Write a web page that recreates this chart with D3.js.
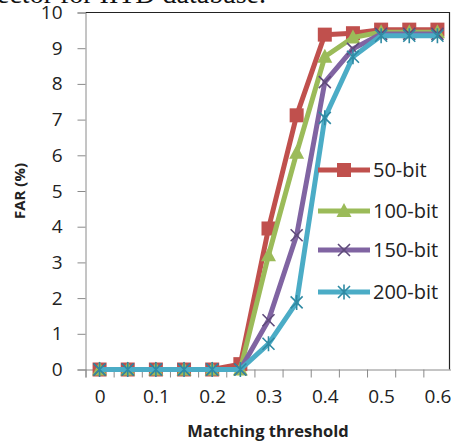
<!DOCTYPE html>
<html><head><meta charset="utf-8">
<script src="https://cdn.jsdelivr.net/npm/d3@7"></script>
<style>body{margin:0;background:#fff;overflow:hidden}svg{display:block}</style>
</head><body>
<script>
const thresholds = [0,0.05,0.1,0.15,0.2,0.25,0.3,0.35,0.4,0.45,0.5,0.55,0.6];
const xLabels = [0,0.1,0.2,0.3,0.4,0.5,0.6];
const yTicks = [0,1,2,3,4,5,6,7,8,9,10];
const seriesNames = ["50-bit","100-bit","150-bit","200-bit"];
const far50  = [0,0,0,0,0,0.15,3.95,7.12,9.38,9.42,9.52,9.52,9.52];
const far100 = [0,0,0,0,0,0,3.2,6.07,8.76,9.3,9.45,9.45,9.45];
const far150 = [0,0,0,0,0,0,1.38,3.76,8.05,8.98,9.4,9.4,9.4];
const far200 = [0,0,0,0,0,0,0.72,1.88,7.05,8.76,9.35,9.35,9.35];
const colors = ["#C0504D","#9BBB59","#8064A2","#4BACC6"];
const markerStroke = ["#C0504D","#9BBB59","#5E4A7A","#2F8AA3"];
const markers = ["square","triangle","x","star"];
const allSeries = [far50,far100,far150,far200];

const W=451,H=441;
const svg=d3.select("body").append("svg").attr("width",W).attr("height",H);
const font="'Open Sans', sans-serif";

// clipped caption text from page above
svg.append("text").attr("x",-3).attr("y",3).attr("font-family","'Liberation Serif', serif")
  .attr("font-size",28).attr("fill","#111").text("ector for IITD database.");

const L=85.5,R=451.5,T=12.5,B=369.5;
const x=d3.scaleLinear().domain([-0.025,0.625]).range([L,R]);
const y=d3.scaleLinear().domain([0,10]).range([B,T]);

// plot border top/right
svg.append("path").attr("d",`M${L},${T}H${449.5}V${B}`).attr("fill","none").attr("stroke","#222").attr("stroke-width",1.2);

// y axis
const ya=svg.append("g").attr("transform",`translate(${L},0)`)
  .call(d3.axisLeft(y).tickValues(yTicks).tickSize(8).tickPadding(15).tickFormat(d3.format("d")));
ya.select(".domain").attr("stroke","#8a8a8a");
ya.selectAll(".tick line").attr("stroke","#8a8a8a");
ya.selectAll("text").attr("font-family",font).attr("font-size",19).attr("fill","#222");

// x axis boundaries ticks
const bounds=thresholds.map(d=>d-0.025).concat([0.625]);
const xa=svg.append("g").attr("transform",`translate(0,${B})`)
  .call(d3.axisBottom(x).tickValues(bounds).tickSize(8).tickFormat(""));
xa.select(".domain").attr("stroke","#8a8a8a");
xa.selectAll(".tick line").attr("stroke","#8a8a8a");
const xl=svg.append("g").attr("transform",`translate(0,${B})`)
  .call(d3.axisBottom(x).tickValues(xLabels).tickSize(0).tickPadding(20).tickFormat(d=>String(d)));
xl.select(".domain").remove();
xl.selectAll("text").attr("font-family",font).attr("font-size",19).attr("fill","#222");

// titles
svg.append("text").attr("x",268).attr("y",437).attr("text-anchor","middle")
  .attr("font-family",font).attr("font-weight","bold").attr("font-size",16.5).attr("fill","#222").text("Matching threshold");
svg.append("text").attr("transform","translate(25,191) rotate(-90)").attr("text-anchor","middle")
  .attr("font-family",font).attr("font-weight","bold").attr("font-size",15).attr("fill","#222").text("FAR (%)");

function drawMarker(g,type,cx,cy,i){
  const s=7;
  if(type==="square"){
    g.append("rect").attr("x",cx-s).attr("y",cy-s).attr("width",2*s).attr("height",2*s).attr("fill",colors[i]);
  } else if(type==="triangle"){
    g.append("path").attr("d",`M${cx},${cy-8}L${cx+7.5},${cy+6}L${cx-7.5},${cy+6}Z`).attr("fill",colors[i]);
  } else if(type==="x"){
    g.append("path").attr("d",`M${cx-6},${cy-6}L${cx+6},${cy+6}M${cx-6},${cy+6}L${cx+6},${cy-6}`)
      .attr("stroke",markerStroke[i]).attr("stroke-width",1.6);
  } else {
    g.append("path").attr("d",`M${cx-6},${cy-6}L${cx+6},${cy+6}M${cx-6},${cy+6}L${cx+6},${cy-6}M${cx},${cy-7.5}V${cy+7.5}`)
      .attr("stroke",markerStroke[i]).attr("stroke-width",1.6);
  }
}

const line=d3.line().x((d,j)=>x(thresholds[j])).y(d=>y(d));
allSeries.forEach((vals,i)=>{
  const g=svg.append("g");
  g.append("path").datum(vals).attr("d",line).attr("fill","none").attr("stroke",colors[i])
    .attr("stroke-width",5).attr("stroke-linejoin","round");
  vals.forEach((v,j)=>drawMarker(g,markers[i],x(thresholds[j]),y(v),i));
});

// legend
const legY=[170,211,250,292];
seriesNames.forEach((n,i)=>{
  const g=svg.append("g");
  g.append("line").attr("x1",318).attr("x2",370).attr("y1",legY[i]).attr("y2",legY[i])
    .attr("stroke",colors[i]).attr("stroke-width",5);
  drawMarker(g,markers[i],344,legY[i],i);
  g.append("text").attr("x",373).attr("y",legY[i]).attr("dy","0.35em").attr("font-family",font)
    .attr("font-size",20).attr("fill","#222").text(n);
});
</script>
</body></html>
